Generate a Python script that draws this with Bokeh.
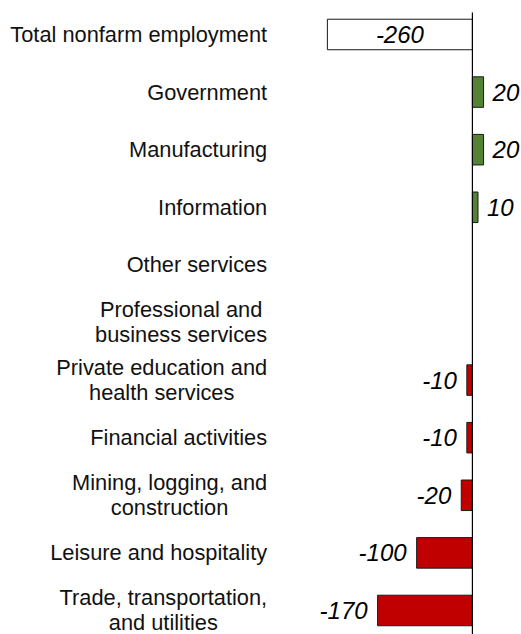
from bokeh.plotting import figure
from bokeh.models import Range1d, ColumnDataSource
from bokeh.core.properties import value
from bokeh.embed import file_html
from bokeh.resources import INLINE

categories = [
    "Total nonfarm employment",
    "Government",
    "Manufacturing",
    "Information",
    "Other services",
    "Professional and\nbusiness services",
    "Private education and\nhealth services",
    "Financial activities",
    "Mining, logging, and\nconstruction",
    "Leisure and hospitality",
    "Trade, transportation,\nand utilities",
]
values = [-260, 20, 20, 10, 0, 0, -10, -10, -20, -100, -170]
value_labels = ["-260", "20", "20", "10", "", "", "-10", "-10", "-20", "-100", "-170"]

FONT = "Liberation Sans"
GREEN = "#548235"
RED = "#C00000"

n = len(categories)
ys = [-i for i in range(n)]

p = figure(width=521, height=634, output_backend="svg", toolbar_location=None,
           x_range=Range1d(-846, 88), y_range=Range1d(-10.417, 0.59),
           min_border=0)
p.xaxis.visible = False
p.yaxis.visible = False
p.xgrid.visible = False
p.ygrid.visible = False
p.outline_line_color = None
p.background_fill_color = "white"
p.border_fill_color = "white"

# bars
fills = []
for i, v in enumerate(values):
    if i == 0:
        fills.append("white")
    elif v >= 0:
        fills.append(GREEN)
    else:
        fills.append(RED)
bars = [(y, v, f) for y, v, f in zip(ys, values, fills) if v != 0]
src = ColumnDataSource(dict(y=[b[0] for b in bars], left=[min(0, b[1]) for b in bars],
                            right=[max(0, b[1]) for b in bars], fill=[b[2] for b in bars]))
p.hbar(y="y", left="left", right="right", height=0.53, fill_color="fill",
       line_color="#1a1a1a", line_width=1, source=src)

# zero axis line
p.segment(x0=[0], y0=[0.38], x1=[0], y1=[-10.417], line_color="black", line_width=1.2)

# category labels
lab = ColumnDataSource(dict(x=[-368] * n, y=ys, text=categories))
p.text(x="x", y="y", text="text", source=lab, text_font=value(FONT),
       text_font_size="21.8px", text_color="#111111", text_align="center",
       text_baseline="middle", anchor=value("center_right"), text_line_height=1.0)

# value labels
tx, ty, tt, ta, xo = [], [], [], [], []
for i, (v, s) in enumerate(zip(values, value_labels)):
    if s == "":
        continue
    ty.append(ys[i]); tt.append(s)
    if i == 0:
        tx.append(v / 2); ta.append("center"); xo.append(0)
    elif v > 0:
        tx.append(v); ta.append("left"); xo.append(9)
    else:
        tx.append(v); ta.append("right"); xo.append(-10)
vsrc = ColumnDataSource(dict(x=tx, y=ty, text=tt, align=ta, xo=xo))
p.text(x="x", y="y", text="text", source=vsrc, text_font=value(FONT),
       text_font_size="24px", text_font_style="italic", text_color="black",
       text_align="align", text_baseline="middle", x_offset="xo")

open("out.html", "w").write(file_html(p, INLINE))
